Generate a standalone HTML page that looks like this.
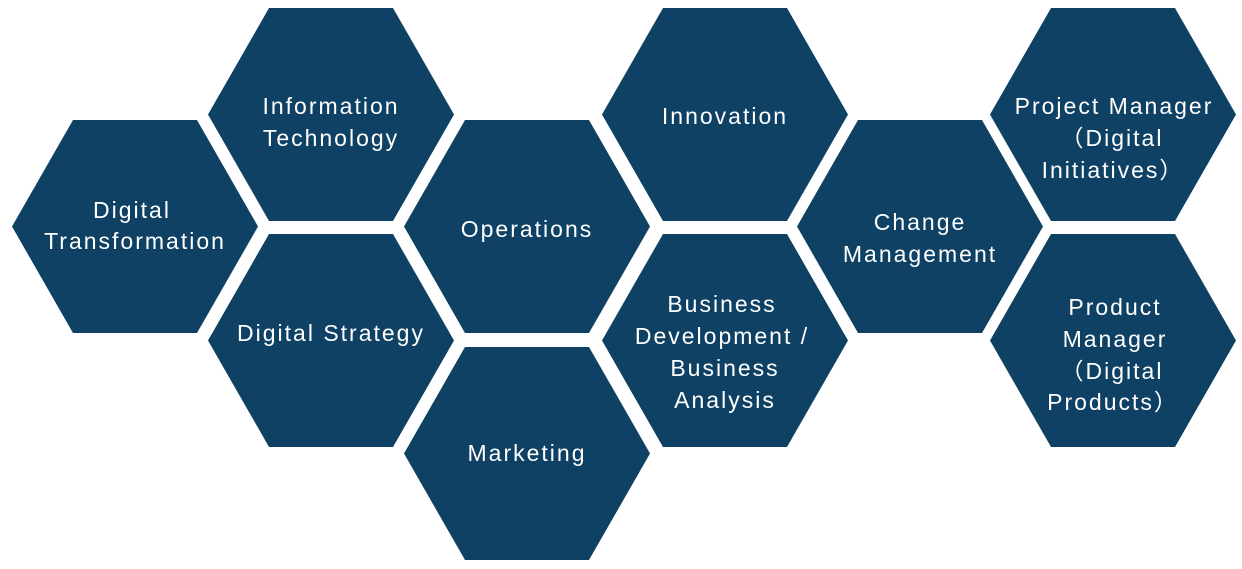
<!DOCTYPE html>
<html><head><meta charset="utf-8"><style>
html,body{margin:0;padding:0;background:#fff;}
svg{display:block;}
text{font-family:"Liberation Sans","Noto Sans CJK SC",sans-serif;font-size:23px;fill:#fff;text-anchor:middle;dominant-baseline:central;letter-spacing:2px;}
</style></head><body>
<svg width="1242" height="569" viewBox="0 0 1242 569" xmlns="http://www.w3.org/2000/svg">
<defs><polygon id="h" points="-123,0 -62,-106.5 62,-106.5 123,0 62,106.5 -62,106.5" fill="#0e4163"/></defs>
<use href="#h" x="135" y="226.5"/>
<use href="#h" x="331" y="114.5"/>
<use href="#h" x="331" y="340.5"/>
<use href="#h" x="527" y="226.5"/>
<use href="#h" x="527" y="453.5"/>
<use href="#h" x="725" y="114.5"/>
<use href="#h" x="725" y="340.5"/>
<use href="#h" x="920" y="226.5"/>
<use href="#h" x="1113" y="114.5"/>
<use href="#h" x="1113" y="340.5"/>
<text x="132" y="210">Digital</text><text x="135" y="241">Transformation</text>
<text x="331" y="106">Information</text><text x="331" y="138">Technology</text>
<text x="331" y="333">Digital Strategy</text>
<text x="527" y="229">Operations</text>
<text x="527" y="453">Marketing</text>
<text x="725" y="116">Innovation</text>
<text x="722" y="304">Business</text><text x="722" y="336">Development /</text><text x="725" y="368">Business</text><text x="725" y="400">Analysis</text>
<text x="920" y="222">Change</text><text x="920" y="254">Management</text>
<text x="1114" y="106">Project Manager</text><text x="1112" y="138">（Digital</text><text x="1113" y="170">Initiatives）</text>
<text x="1115" y="307">Product</text><text x="1115" y="339">Manager</text><text x="1112" y="371">（Digital</text><text x="1113" y="402">Products）</text>
</svg>
</body></html>
